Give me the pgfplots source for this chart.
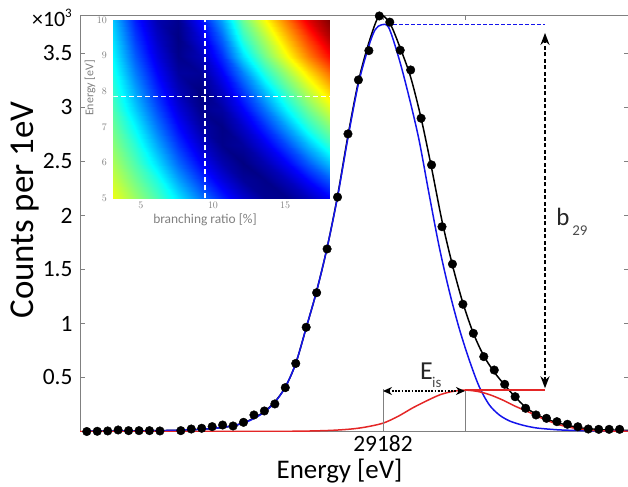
\documentclass[border=0pt]{standalone}
\usepackage{pgfplots}
\pgfplotsset{compat=1.18}
\usepackage{fontspec}
\setmainfont{Carlito}
\usetikzlibrary{arrows.meta}
\definecolor{fitred}{RGB}{228,38,38}
\definecolor{fitblue}{RGB}{20,20,235}
\begin{document}
\begin{tikzpicture}
\begin{axis}[
  at={(0,0)}, anchor=south west,
  scale only axis, width=548.8bp, height=416.5bp,
  xmin=29153.0, xmax=29205.53, ymin=0, ymax=3.856,
  scaled ticks=false,
  axis line style={gray, line width=0.9bp},
  tick style={gray, line width=0.8bp},
  major tick length=5bp,
  xtick={29182,29189.85}, xticklabels={29182,{}},
  ytick={0.5,1,1.5,2,2.5,3,3.5}, yticklabels={0.5,1,1.5,2,2.5,3,3.5},
  ticklabel style={font=\fontsize{23.5}{26}\selectfont, black},
  yticklabel style={xshift=-4bp},
]
% data points
\addplot[only marks, mark=*, mark size=4.3bp, mark options={fill=black, draw=black}] coordinates {
(29153.65,0.000) (29154.65,0.002) (29155.65,0.005) (29156.65,0.014) (29157.65,0.008)
(29158.65,0.008) (29159.65,0.008) (29160.65,0.005) (29161.65,-0.006) (29162.65,0.008)
(29163.65,0.023) (29164.65,0.030) (29165.65,0.045) (29166.65,0.060) (29167.65,0.051)
(29168.65,0.085) (29169.65,0.153) (29170.65,0.190) (29171.65,0.255) (29172.65,0.406)
(29173.65,0.630) (29174.65,0.965) (29175.65,1.285) (29176.65,1.690) (29177.65,2.170)
(29178.65,2.755) (29179.65,3.255) (29180.65,3.526) (29181.65,3.847) (29182.65,3.790)
(29183.65,3.530) (29184.65,3.347) (29185.65,2.900) (29186.65,2.468) (29187.65,1.896)
(29188.65,1.550) (29189.65,1.178) (29190.65,0.909) (29191.65,0.693) (29192.65,0.569)
(29193.65,0.437) (29194.65,0.322) (29195.65,0.215) (29196.65,0.153) (29197.65,0.122)
(29198.65,0.091) (29199.65,0.067) (29200.65,0.044) (29201.65,0.023) (29202.65,0.020)
(29203.65,0.020) (29204.65,0.020) (29205.65,0.020)
};
% total fit (black)
\addplot[black, line width=1.5bp, smooth, tension=0.5] coordinates {
(29153.65,0.003) (29155.65,0.004) (29157.65,0.005) (29159.65,0.007) (29161.65,0.010)
(29163.65,0.016) (29164.65,0.021) (29165.65,0.028) (29166.65,0.038) (29167.65,0.053)
(29168.65,0.080) (29169.65,0.125) (29170.65,0.185) (29171.65,0.275) (29172.65,0.410)
(29173.65,0.630) (29174.65,0.960) (29175.65,1.300) (29176.65,1.700) (29177.65,2.180)
(29178.65,2.740) (29179.65,3.240) (29180.65,3.600) (29181.65,3.850) (29182.65,3.780)
(29183.65,3.550) (29184.65,3.280) (29185.65,2.900) (29186.65,2.440) (29187.65,1.950)
(29188.65,1.540) (29189.65,1.190) (29190.65,0.910) (29191.65,0.700) (29192.65,0.550)
(29193.65,0.430) (29194.65,0.320) (29195.65,0.225) (29196.65,0.160) (29197.65,0.115)
(29198.65,0.083) (29199.65,0.058) (29200.65,0.038) (29201.65,0.025) (29202.65,0.018)
(29203.65,0.014) (29204.65,0.012) (29205.65,0.011)
};
% main line (blue)
\addplot[fitblue, line width=1.5bp, smooth, tension=0.5] coordinates {
(29153.65,0.003) (29155.65,0.004) (29157.65,0.005) (29159.65,0.007) (29161.65,0.010)
(29163.65,0.016) (29164.65,0.021) (29165.65,0.028) (29166.65,0.038) (29167.65,0.053)
(29168.65,0.078) (29169.65,0.120) (29170.65,0.180) (29171.65,0.270) (29172.65,0.410)
(29173.65,0.630) (29174.65,0.960) (29175.65,1.300) (29176.65,1.700) (29177.65,2.170)
(29178.65,2.720) (29179.65,3.220) (29180.65,3.570) (29181.25,3.720) (29181.85,3.765)
(29182.55,3.740) (29183.54,3.450) (29184.49,3.100) (29185.45,2.700) (29186.41,2.200)
(29187.36,1.720) (29188.32,1.310) (29189.28,0.960) (29190.23,0.670) (29191.19,0.420)
(29192.15,0.250) (29193.11,0.155) (29194.06,0.100) (29195.02,0.068) (29195.98,0.045)
(29196.93,0.030) (29198.85,0.015) (29200.76,0.009) (29202.75,0.006) (29205.45,0.004)
};
% satellite (red)
\addplot[fitred, line width=1.5bp, smooth, tension=0.5] coordinates {
(29153.0,0.0) (29165.0,0.0) (29170.0,0.001) (29174.06,0.003) (29176.93,0.010)
(29178.85,0.022) (29180.28,0.040) (29182.0,0.077) (29183.44,0.140) (29184.87,0.220)
(29186.31,0.290) (29187.46,0.340) (29188.61,0.370) (29189.85,0.383) (29191.10,0.370)
(29192.24,0.340) (29193.49,0.290) (29194.64,0.235) (29196.07,0.175) (29197.51,0.110)
(29198.95,0.060) (29200.38,0.030) (29201.82,0.012) (29203.25,0.005) (29205.53,0.002)
};
% annotations
\draw[gray, line width=0.8bp] (axis cs:29182,0) -- (axis cs:29182,0.39);
\draw[gray, line width=0.8bp] (axis cs:29189.85,0) -- (axis cs:29189.85,0.39);
\draw[fitred, line width=1.3bp] (axis cs:29189.85,0.383) -- (axis cs:29197.51,0.383);
\draw[fitblue, line width=1.3bp, dash pattern=on 4bp off 2bp] (axis cs:29182.4,3.77) -- (axis cs:29197.51,3.77);
\draw[black, line width=1.8bp, dash pattern=on 1.8bp off 1.5bp, {Stealth[length=9bp,width=8bp]}-{Stealth[length=9bp,width=8bp]}] (axis cs:29182,0.375) -- (axis cs:29189.85,0.375);
\draw[black, line width=2bp, dash pattern=on 4bp off 2.5bp, {Stealth[length=12bp,width=9bp]}-{Stealth[length=12bp,width=9bp]}] (axis cs:29197.51,0.40) -- (axis cs:29197.51,3.69);
\node[anchor=base west, inner sep=0, font=\fontsize{26}{30}\selectfont, black!85] at (axis cs:29185.54,0.477) {E};
\node[anchor=base west, inner sep=0, font=\fontsize{15}{17}\selectfont, black!70] at (axis cs:29186.69,0.403) {is};
\node[anchor=base west, inner sep=0, font=\fontsize{25}{30}\selectfont, black!85] at (axis cs:29198.57,1.903) {b};
\node[anchor=base west, inner sep=0, font=\fontsize{15}{17}\selectfont, black!70] at (axis cs:29200.10,1.81) {29};
\end{axis}
% main axis labels (outside the clipped area)
\node[anchor=base east, inner sep=0, font=\fontsize{22}{26}\selectfont] at (-8bp,404.5bp) {×10\raisebox{0.45em}{\fontsize{13}{15}\selectfont 3}};
\node[rotate=90, font=\fontsize{35}{40}\selectfont] at (-55bp,221.5bp) {Counts per 1eV};
\node[anchor=base, font=\fontsize{27}{30}\selectfont] at (259.5bp,-46.5bp) {Energy [eV]};
% inset
\begin{axis}[
  at={(33.3bp,233.2bp)}, anchor=south west,
  scale only axis, width=216.7bp, height=178.3bp,
  xmin=3.1, xmax=18.1, ymin=5, ymax=10,
  enlargelimits=false,
  axis line style={draw=none},
  tick style={draw=none},
  xtick={5,10,15}, ytick={5,6,7,8,9,10},
  ticklabel style={font=\fontsize{10}{12}\selectfont, text=gray},
  yticklabel style={xshift=-3bp},
  colormap/jet, point meta min=0, point meta max=1,
]
\addplot[surf, shader=interp, mesh/cols=11, point meta=explicit] table[meta=z] {
x y z
3.1 5.0 0.607
4.6 5.0 0.526
6.1 5.0 0.446
7.6 5.0 0.351
9.1 5.0 0.248
10.6 5.0 0.156
12.1 5.0 0.078
13.6 5.0 0.018
15.1 5.0 0.012
16.6 5.0 0.059
18.1 5.0 0.121
3.1 5.5 0.574
4.6 5.5 0.488
6.1 5.5 0.402
7.6 5.5 0.286
9.1 5.5 0.183
10.6 5.5 0.094
12.1 5.5 0.026
13.6 5.5 0.009
15.1 5.5 0.059
16.6 5.5 0.129
18.1 5.5 0.213
3.1 6.0 0.542
4.6 6.0 0.451
6.1 6.0 0.344
7.6 6.0 0.227
9.1 6.0 0.127
10.6 6.0 0.046
12.1 6.0 0.001
13.6 6.0 0.049
15.1 6.0 0.122
16.6 6.0 0.214
18.1 6.0 0.316
3.1 6.5 0.511
4.6 6.5 0.415
6.1 6.5 0.291
7.6 6.5 0.176
9.1 6.5 0.080
10.6 6.5 0.011
12.1 6.5 0.029
13.6 6.5 0.103
15.1 6.5 0.198
16.6 6.5 0.308
18.1 6.5 0.423
3.1 7.0 0.481
4.6 7.0 0.372
6.1 7.0 0.242
7.6 7.0 0.131
9.1 7.0 0.041
10.6 7.0 0.006
12.1 7.0 0.072
13.6 7.0 0.168
15.1 7.0 0.283
16.6 7.0 0.409
18.1 7.0 0.506
3.1 7.5 0.451
4.6 7.5 0.326
6.1 7.5 0.199
7.6 7.5 0.091
9.1 7.5 0.013
10.6 7.5 0.034
12.1 7.5 0.124
13.6 7.5 0.240
15.1 7.5 0.375
16.6 7.5 0.486
18.1 7.5 0.590
3.1 8.0 0.423
4.6 8.0 0.287
6.1 8.0 0.160
7.6 8.0 0.057
9.1 8.0 0.001
10.6 8.0 0.073
12.1 8.0 0.184
13.6 8.0 0.318
15.1 8.0 0.452
16.6 8.0 0.563
18.1 8.0 0.674
3.1 8.5 0.396
4.6 8.5 0.248
6.1 8.5 0.125
7.6 8.5 0.031
9.1 8.5 0.022
10.6 8.5 0.119
12.1 8.5 0.253
13.6 8.5 0.410
15.1 8.5 0.530
16.6 8.5 0.650
18.1 8.5 0.770
3.1 9.0 0.369
4.6 9.0 0.214
6.1 9.0 0.094
7.6 9.0 0.011
9.1 9.0 0.051
10.6 9.0 0.170
12.1 9.0 0.345
13.6 9.0 0.490
15.1 9.0 0.620
16.6 9.0 0.750
18.1 9.0 0.870
3.1 9.5 0.344
4.6 9.5 0.182
6.1 9.5 0.068
7.6 9.5 0.004
9.1 9.5 0.087
10.6 9.5 0.225
12.1 9.5 0.420
13.6 9.5 0.550
15.1 9.5 0.690
16.6 9.5 0.820
18.1 9.5 0.950
3.1 10.0 0.319
4.6 10.0 0.154
6.1 10.0 0.047
7.6 10.0 0.014
9.1 10.0 0.126
10.6 10.0 0.286
12.1 10.0 0.480
13.6 10.0 0.620
15.1 10.0 0.760
16.6 10.0 0.900
18.1 10.0 1.000
};
\draw[white, line width=1.2bp, dash pattern=on 5bp off 3bp] (axis cs:9.45,5) -- (axis cs:9.45,10);
\draw[white, line width=1.2bp, dash pattern=on 5bp off 3bp] (axis cs:3.1,7.85) -- (axis cs:18.1,7.85);
\end{axis}
\node[text=gray, font=\fontsize{13.5}{16}\selectfont] at (125bp,212bp) {branching ratio [\%]};
\node[text=gray, rotate=90, font=\fontsize{12}{14}\selectfont] at (10bp,343.5bp) {Energy [eV]};
\pgfresetboundingbox
\path[use as bounding box] (-80bp,-55.5bp) rectangle (548bp,431.5bp);
\end{tikzpicture}
\end{document}
